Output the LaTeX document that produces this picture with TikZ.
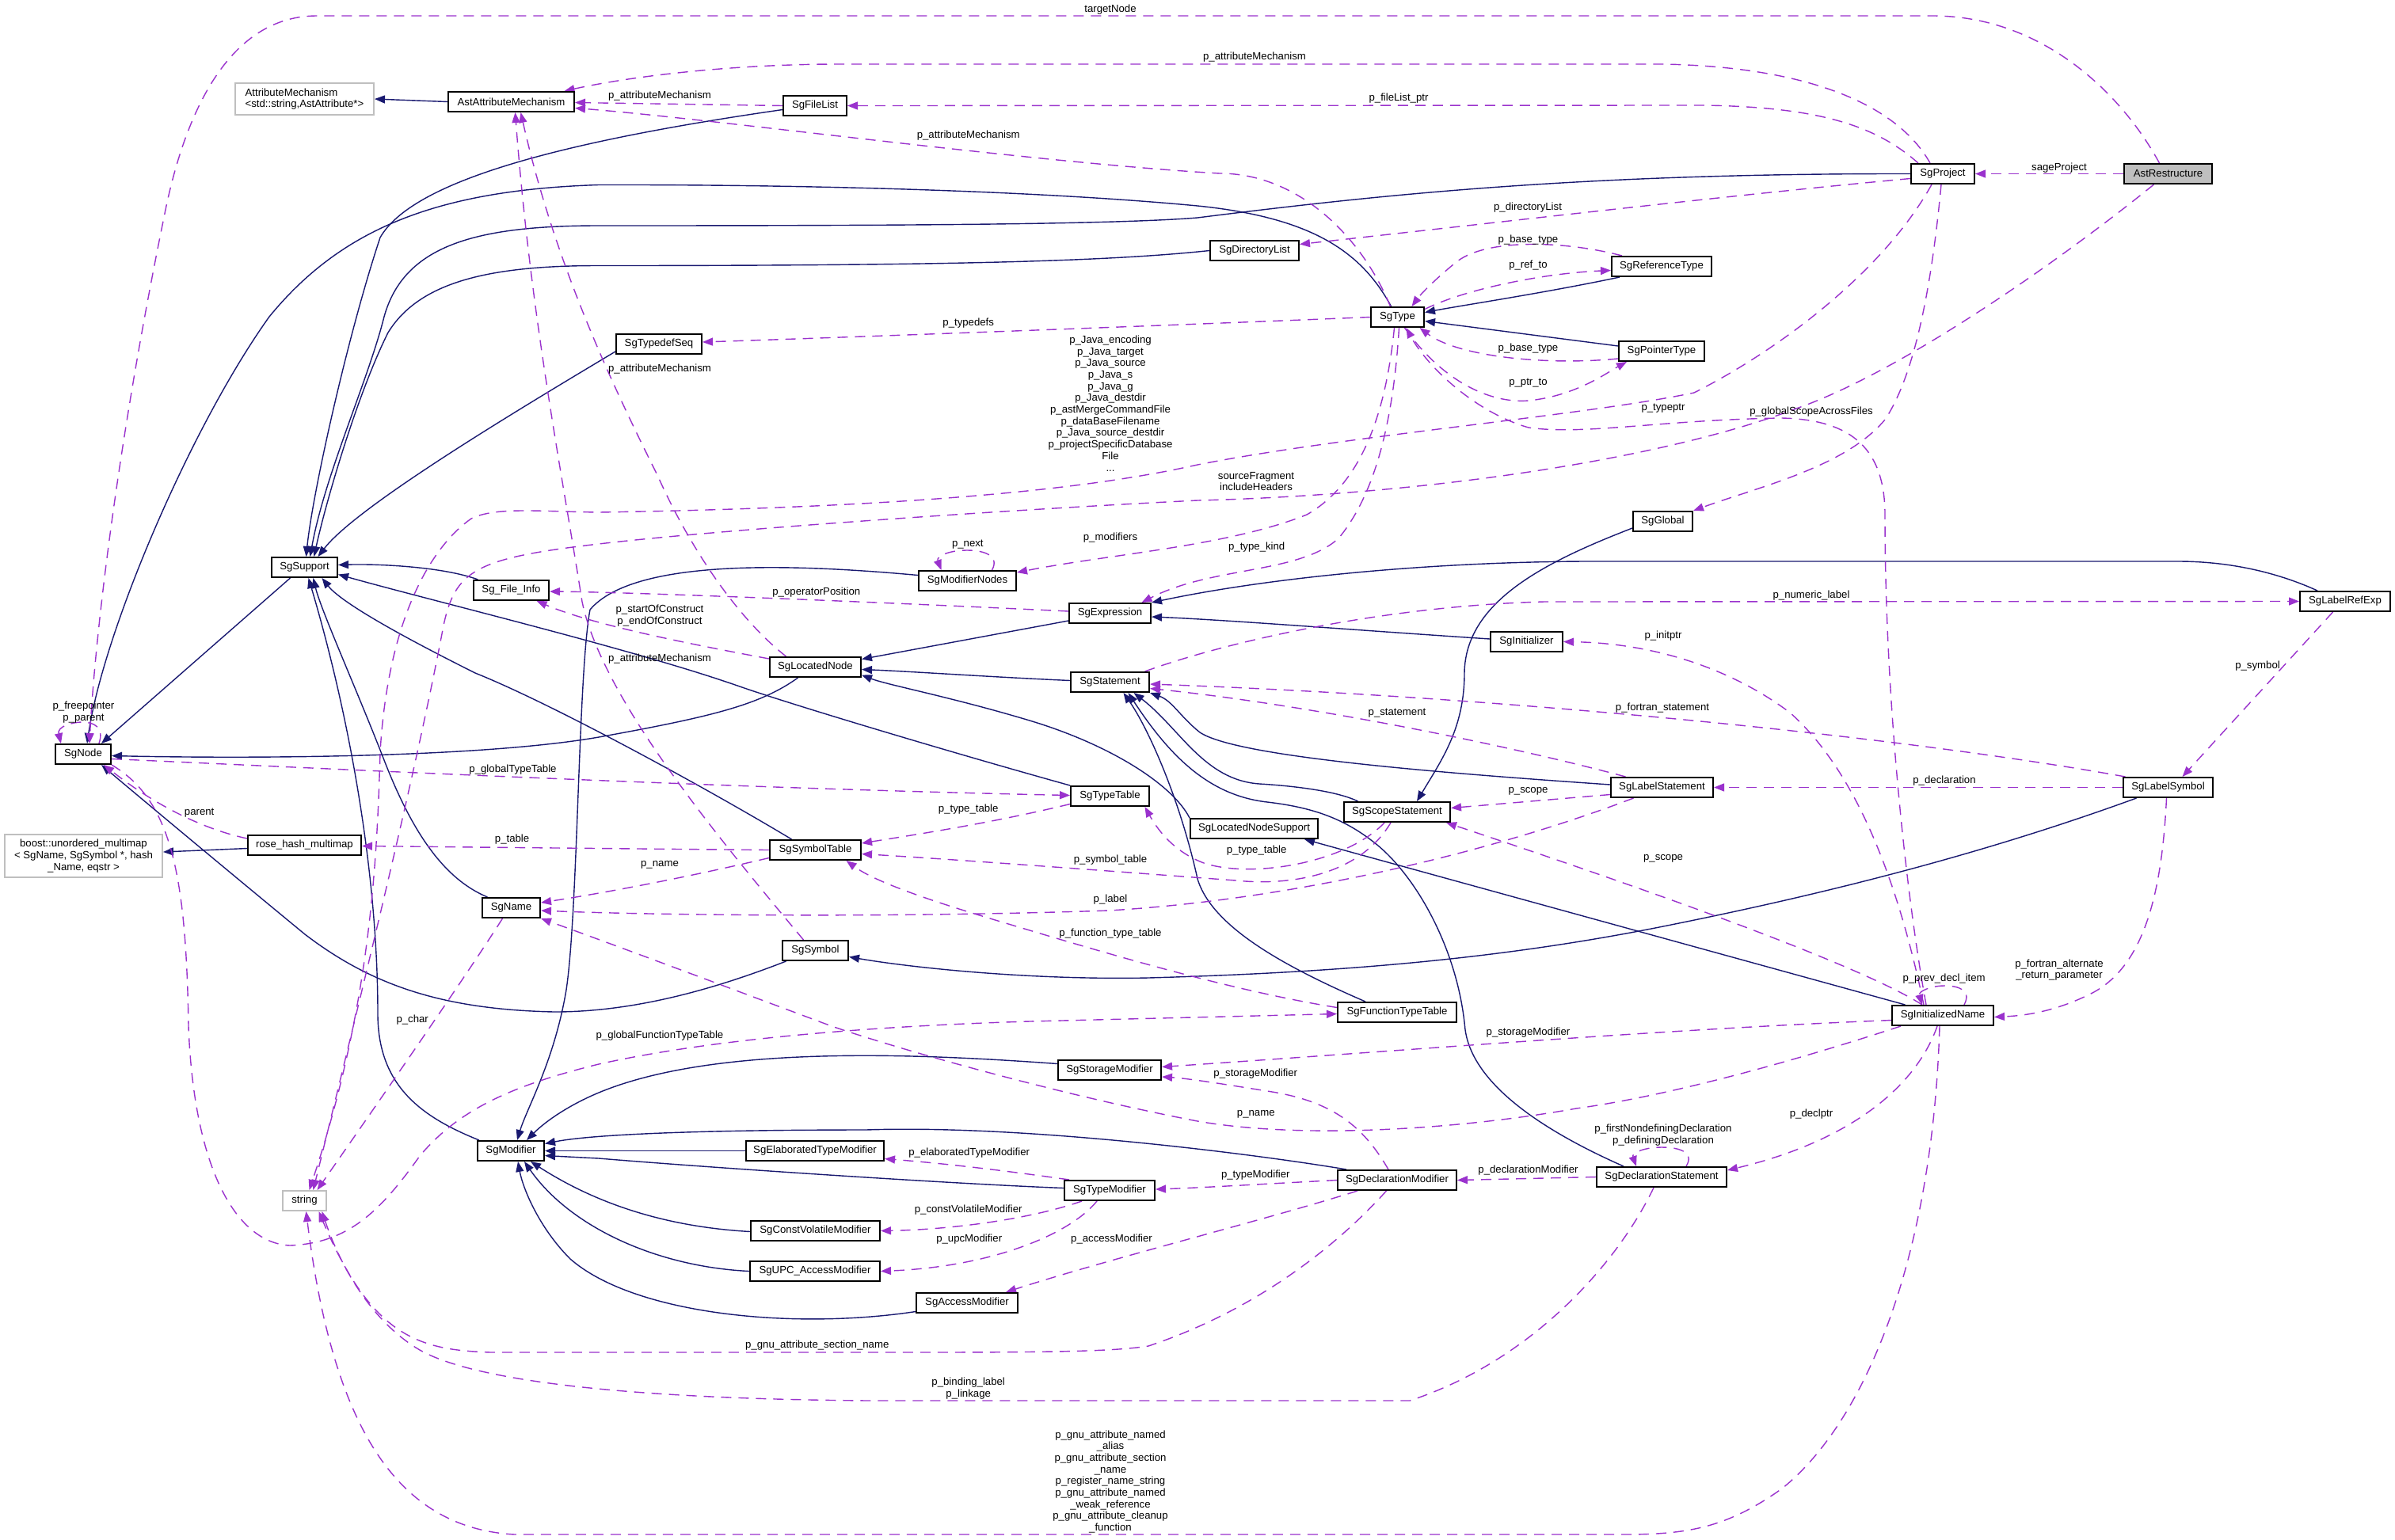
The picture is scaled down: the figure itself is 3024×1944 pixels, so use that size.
\documentclass[tikz,border=0pt]{standalone}
\usepackage{fontspec}
\setmainfont{Liberation Sans}
\usetikzlibrary{arrows.meta}
\definecolor{navyc}{HTML}{191970}
\definecolor{purp}{HTML}{9A32CD}
\definecolor{grayb}{HTML}{BFBFBF}
\newcommand\lblfont{\fontsize{13.2}{14.7}\selectfont}
\pgfdeclarelayer{bgl}
\pgfdeclarelayer{edges}
\pgfsetlayers{bgl,edges,main}
\begin{document}
\begin{tikzpicture}[x=1pt,y=-1pt,
 box/.style={draw=black, line width=2pt, fill=white, minimum height=25pt, inner xsep=2pt, inner ysep=2pt, font=\lblfont},
 gbox/.style={box, draw=grayb},
 inh/.style={draw=navyc, line width=1.4pt, -{Triangle[length=13pt,width=10pt]}},
 use/.style={draw=purp, line width=1.4pt, dash pattern=on 13pt off 9pt, -{Triangle[length=13pt,width=10pt]}},
 lbl/.style={inner sep=0pt, align=center, font=\lblfont}]
\begin{pgfonlayer}{bgl}
\fill[white] (0,0) rectangle (3024,1944);
\end{pgfonlayer}
\useasboundingbox (0,0) rectangle (3024,1944);

% ---------- nodes ----------
\node[gbox, minimum width=175pt, minimum height=40pt, align=left] (am) at (384.5,125) {AttributeMechanism\\<std::string,AstAttribute*>};
\node[box, minimum width=159pt] (aam) at (645.5,128.5) {AstAttributeMechanism};
\node[box, minimum width=80pt] (fl) at (1029,133.5) {SgFileList};
\node[box, minimum width=80pt] (proj) at (2453,219.5) {SgProject};
\node[box, minimum width=111pt, fill=grayb] (ar) at (2737.5,219.5) {AstRestructure};
\node[box, minimum width=112pt] (dl) at (1584,316.5) {SgDirectoryList};
\node[box, minimum width=67pt] (ty) at (1764.5,400.5) {SgType};
\node[box, minimum width=126pt] (rt) at (2098,336.5) {SgReferenceType};
\node[box, minimum width=108pt] (ptrt) at (2098,443.5) {SgPointerType};
\node[box, minimum width=108pt] (tds) at (832,434.5) {SgTypedefSeq};
\node[box, minimum width=75pt] (glob) at (2099.5,658.5) {SgGlobal};
\node[box, minimum width=83pt] (sup) at (384.5,716.5) {SgSupport};
\node[box, minimum width=95pt] (fi) at (645.5,745.5) {Sg\_File\_Info};
\node[box, minimum width=70pt] (sn) at (105,952.5) {SgNode};
\node[box, minimum width=123pt] (mn) at (1221.5,733.5) {SgModifierNodes};
\node[box, minimum width=103pt] (ex) at (1401.5,774.5) {SgExpression};
\node[box, minimum width=114pt] (lre) at (2961,759.5) {SgLabelRefExp};
\node[box, minimum width=115pt] (ln) at (1029.5,842.5) {SgLocatedNode};
\node[box, minimum width=99pt] (st) at (1401.5,861.5) {SgStatement};
\node[box, minimum width=91pt] (ini) at (1927.5,810.5) {SgInitializer};
\node[box, minimum width=129pt] (ls) at (2098.5,994.5) {SgLabelStatement};
\node[box, minimum width=113pt] (lsym) at (2737.5,994.5) {SgLabelSymbol};
\node[box, minimum width=134pt] (ss) at (1764,1025.5) {SgScopeStatement};
\node[box, minimum width=161pt] (lns) at (1583.5,1046.5) {SgLocatedNodeSupport};
\node[box, minimum width=99pt] (tt) at (1401.5,1005.5) {SgTypeTable};
\node[box, minimum width=115pt] (symt) at (1029.5,1073.5) {SgSymbolTable};
\node[box, minimum width=143pt] (rhm) at (384.5,1067.5) {rose\_hash\_multimap};
\node[gbox, minimum width=199pt, minimum height=54pt, align=center] (bum) at (105.5,1081) {boost::unordered\_multimap\\< SgName, SgSymbol *, hash\\\_Name, eqstr >};
\node[box, minimum width=73pt] (nm) at (645.5,1146.5) {SgName};
\node[box, minimum width=83pt] (sym) at (1029.5,1200.5) {SgSymbol};
\node[box, minimum width=150pt] (ftt) at (1764,1278.5) {SgFunctionTypeTable};
\node[box, minimum width=128pt] (inm) at (2453,1282.5) {SgInitializedName};
\node[box, minimum width=130pt] (stm) at (1401,1351.5) {SgStorageModifier};
\node[box, minimum width=84pt] (mod) at (645,1453.5) {SgModifier};
\node[gbox, minimum width=55pt] (str) at (384.5,1516.5) {string};
\node[box, minimum width=174pt] (etm) at (1029,1453.5) {SgElaboratedTypeModifier};
\node[box, minimum width=114pt] (tm) at (1401,1503.5) {SgTypeModifier};
\node[box, minimum width=163pt] (cvm) at (1029.5,1554.5) {SgConstVolatileModifier};
\node[box, minimum width=164pt] (upc) at (1029,1605.5) {SgUPC\_AccessModifier};
\node[box, minimum width=128pt] (acc) at (1221,1645.5) {SgAccessModifier};
\node[box, minimum width=150pt] (dm) at (1764,1490.5) {SgDeclarationModifier};
\node[box, minimum width=164pt] (ds) at (2098,1486.5) {SgDeclarationStatement};

% ---------- labels ----------
\node[lbl] (l1) at (1402,11.6) {targetNode};
\node[lbl] (l2) at (1584,72) {p\_attributeMechanism};
\node[lbl] (l3) at (833,120.7) {p\_attributeMechanism};
\node[lbl] (l4) at (1766,124) {p\_fileList\_ptr};
\node[lbl] (l5) at (1222.7,171.5) {p\_attributeMechanism};
\node[lbl] (l6) at (2600,211.6) {sageProject};
\node[lbl] (l7) at (1929,262) {p\_directoryList};
\node[lbl] (l8) at (1929.5,303) {p\_base\_type};
\node[lbl] (l9) at (1929.5,335.5) {p\_ref\_to};
\node[lbl] (l10) at (1222.7,408) {p\_typedefs};
\node[lbl] (l11) at (1929.5,440.5) {p\_base\_type};
\node[lbl] (l12) at (1402,509.4) {p\_Java\_encoding\\p\_Java\_target\\p\_Java\_source\\p\_Java\_s\\p\_Java\_g\\p\_Java\_destdir\\p\_astMergeCommandFile\\p\_dataBaseFilename\\p\_Java\_source\_destdir\\p\_projectSpecificDatabase\\File\\...};
\node[lbl] (l13) at (833,466.5) {p\_attributeMechanism};
\node[lbl] (l14) at (1929.5,483.5) {p\_ptr\_to};
\node[lbl] (l15) at (2100,515.7) {p\_typeptr};
\node[lbl] (l16) at (2287,520) {p\_globalScopeAcrossFiles};
\node[lbl] (l17) at (1586,608) {sourceFragment\\includeHeaders};
\node[lbl] (l18) at (1402,679.4) {p\_modifiers};
\node[lbl] (l19) at (1221.8,687.7) {p\_next};
\node[lbl] (l20) at (1586.7,690.6) {p\_type\_kind};
\node[lbl] (l21) at (1030.8,747.6) {p\_operatorPosition};
\node[lbl] (l22) at (2287,751.7) {p\_numeric\_label};
\node[lbl] (l23) at (833,777.4) {p\_startOfConstruct\\p\_endOfConstruct};
\node[lbl] (l24) at (2100,803.4) {p\_initptr};
\node[lbl] (l25) at (833,832.3) {p\_attributeMechanism};
\node[lbl] (l26) at (2850.5,840.6) {p\_symbol};
\node[lbl] (l27) at (2099,894.3) {p\_fortran\_statement};
\node[lbl] (l28) at (1764,900.5) {p\_statement};
\node[lbl] (l29) at (105.5,899.3) {p\_freepointer\\p\_parent};
\node[lbl] (l30) at (647.5,972.4) {p\_globalTypeTable};
\node[lbl] (l31) at (2455,986.4) {p\_declaration};
\node[lbl] (l32) at (1929.5,999.7) {p\_scope};
\node[lbl] (l33) at (1222.7,1022.4) {p\_type\_table};
\node[lbl] (l34) at (251.7,1027) {parent};
\node[lbl] (l35) at (646.6,1060.4) {p\_table};
\node[lbl] (l36) at (1586.7,1074.5) {p\_type\_table};
\node[lbl] (l37) at (2100,1084.8) {p\_scope};
\node[lbl] (l38) at (1402,1086) {p\_symbol\_table};
\node[lbl] (l39) at (833,1092.6) {p\_name};
\node[lbl] (l40) at (1402,1135.6) {p\_label};
\node[lbl] (l41) at (1402,1179.4) {p\_function\_type\_table};
\node[lbl] (l42) at (2600,1225.2) {p\_fortran\_alternate\\\_return\_parameter};
\node[lbl] (l43) at (2454.6,1236.4) {p\_prev\_decl\_item};
\node[lbl] (l44) at (520.7,1288.5) {p\_char};
\node[lbl] (l45) at (1929.5,1304.3) {p\_storageModifier};
\node[lbl] (l46) at (833,1308.4) {p\_globalFunctionTypeTable};
\node[lbl] (l47) at (1585.3,1356.3) {p\_storageModifier};
\node[lbl] (l48) at (2287,1406.7) {p\_declptr};
\node[lbl] (l49) at (1585.8,1407.6) {p\_name};
\node[lbl] (l50) at (2100,1433.6) {p\_firstNondefiningDeclaration\\p\_definingDeclaration};
\node[lbl] (l51) at (1223.7,1456.3) {p\_elaboratedTypeModifier};
\node[lbl] (l52) at (1929.5,1478.2) {p\_declarationModifier};
\node[lbl] (l53) at (1585.3,1484.4) {p\_typeModifier};
\node[lbl] (l54) at (1222.7,1528.2) {p\_constVolatileModifier};
\node[lbl] (l55) at (1223.7,1564.6) {p\_upcModifier};
\node[lbl] (l56) at (1403.5,1564.6) {p\_accessModifier};
\node[lbl] (l57) at (1031.8,1699.3) {p\_gnu\_attribute\_section\_name};
\node[lbl] (l58) at (1222.7,1753.5) {p\_binding\_label\\p\_linkage};
\node[lbl] (l59) at (1402,1871.4) {p\_gnu\_attribute\_named\\\_alias\\p\_gnu\_attribute\_section\\\_name\\p\_register\_name\_string\\p\_gnu\_attribute\_named\\\_weak\_reference\\p\_gnu\_attribute\_cleanup\\\_function};

\begin{pgfonlayer}{edges}
% ---------- inheritance ----------
\draw[inh] (aam.west) -- (am.east);
\draw[inh] ([yshift=-5pt]fl.west) .. controls (700,180) and (520,230) .. (480,300) .. controls (440,420) and (395,620) .. ([xshift=2pt]sup.north);
\draw[inh] (proj.west) .. controls (2000,219) and (1750,245) .. (1512,275) .. controls (1400,284) and (1100,285) .. (756,285) .. controls (600,285) and (510,310) .. (485,400) .. controls (465,480) and (410,600) .. ([xshift=7pt]sup.north);
\draw[inh] (dl.west) .. controls (1400,330) and (1200,335.5) .. (756,335.5) .. controls (620,335.5) and (530,355) .. (490,420) .. controls (450,500) and (410,640) .. ([xshift=12pt]sup.north);
\draw[inh] ([yshift=-9.5pt]tds.west) .. controls (650,520) and (450,640) .. ([xshift=17pt]sup.north);
\draw[inh] ([xshift=-42pt]fi.north) .. controls (560,716) and (480,712) .. ([yshift=3pt]sup.east);
\draw[inh] (tt.north west) .. controls (1200,950) and (1000,890) .. (934,867) .. controls (800,820) and (550,760) .. ([yshift=-9pt]sup.east);
\draw[inh] ([xshift=-30pt]symt.north) .. controls (900,1000) and (700,890) .. (600,850) .. controls (500,800) and (430,760) .. ([xshift=22pt]sup.south);
\draw[inh] ([xshift=-30pt]nm.north) .. controls (560,1110) and (520,1050) .. (485,960) .. controls (450,870) and (405,770) .. ([xshift=11pt]sup.south);
\draw[inh] ([xshift=-40pt]mod.north) .. controls (530,1410) and (477,1370) .. (477,1280) .. controls (477,1100) and (440,900) .. ([xshift=5pt]sup.south);
\draw[inh] ([xshift=-18pt]sup.south) -- ([xshift=23pt]sn.north);
\draw[inh] ([xshift=-8pt]ty.north) .. controls (1720,320) and (1660,275) .. (1512,260) .. controls (1300,240) and (1000,233) .. (756,233.5) .. controls (550,240) and (430,290) .. (340,400) .. controls (240,540) and (130,800) .. ([xshift=5pt]sn.north);
\draw[inh] ([xshift=-22pt]ln.south) .. controls (960,890) and (900,905) .. (756,931) .. controls (600,958) and (300,958) .. ([yshift=-2pt]sn.east);
\draw[inh] ([xshift=-37pt]sym.south) .. controls (900,1250) and (800,1278) .. (700,1278) .. controls (560,1275) and (470,1245) .. (385,1180) .. controls (300,1110) and (180,1010) .. ([xshift=23pt]sn.south);
\draw[inh] ([xshift=-53pt]rt.south) .. controls (1950,370) and (1850,385) .. ([yshift=6pt]ty.east);
\draw[inh] ([yshift=6.5pt]ptrt.west) -- ([yshift=-5pt]ty.east);
\draw[inh] ([yshift=-9.5pt]ex.west) -- ([yshift=10pt]ln.east);
\draw[inh] ([yshift=2pt]st.west) .. controls (1250,855) and (1150,848) .. ([yshift=-3pt]ln.east);
\draw[inh] (lns.north west) .. controls (1480,990) and (1400,940) .. (1300,910) .. controls (1200,880) and (1120,865) .. ([yshift=-10pt]ln.east);
\draw[inh] ([xshift=-35pt]lre.north) .. controls (2880,725) and (2820,709) .. (2750,709) -- (2000,709) .. controls (1800,710) and (1600,730) .. (ex.north east);
\draw[inh] ([yshift=3.5pt]ini.west) .. controls (1700,795) and (1550,783) .. ([yshift=-4.5pt]ex.east);
\draw[inh] ([yshift=3.5pt]ls.west) .. controls (1800,975) and (1560,955) .. (1515,925) .. controls (1490,905) and (1480,885) .. (st.south east);
\draw[inh] ([xshift=-49.5pt]ss.north) .. controls (1690,1000) and (1640,993) .. (1590,990) .. controls (1520,985) and (1490,920) .. ([xshift=30pt]st.south);
\draw[inh] ([xshift=-48pt]ds.north) .. controls (1930,1420) and (1855,1360) .. (1849.5,1296) .. controls (1840,1200) and (1790,1110) .. (1740,1068) .. controls (1700,1035) and (1660,1020) .. (1600,1013) .. controls (1530,1005) and (1480,960) .. ([xshift=23pt]st.south);
\draw[inh] ([xshift=-40pt]ftt.north) .. controls (1620,1220) and (1530,1170) .. (1512,1110) .. controls (1490,1010) and (1450,920) .. ([xshift=17pt]st.south);
\draw[inh] ([yshift=-8.5pt]glob.west) .. controls (1950,710) and (1850,760) .. (1849,850) .. controls (1849,920) and (1820,960) .. ([xshift=25pt]ss.north);
\draw[inh] ([xshift=-40pt]lsym.south) .. controls (2500,1080) and (2300,1130) .. (2100,1170) .. controls (1900,1210) and (1700,1228) .. (1450,1235) .. controls (1300,1238) and (1150,1222) .. ([yshift=-8pt]sym.east);
\draw[inh] ([xshift=-47.5pt]inm.north) -- ([xshift=63.5pt]lns.south);
\draw[inh] ([yshift=-4pt]rhm.west) -- ([yshift=5pt]bum.east);
\draw[inh] ([yshift=7pt]mn.west) .. controls (1000,712) and (800,705) .. (745,770) .. controls (730,850) and (730,1150) .. (715,1250) .. controls (700,1340) and (665,1400) .. ([xshift=8pt]mod.north);
\draw[inh] ([yshift=8pt]stm.west) .. controls (1150,1330) and (900,1320) .. (756,1380) .. controls (720,1395) and (690,1415) .. ([xshift=20pt]mod.north);
\draw[inh] ([xshift=-64pt]dm.north) .. controls (1600,1460) and (1300,1420) .. (1093,1427) .. controls (900,1427) and (750,1432) .. ([yshift=9pt]mod.east);
\draw[inh] (etm.west) -- (mod.east);
\draw[inh] ([yshift=3pt]tm.west) .. controls (1200,1495) and (900,1475) .. (756,1463) -- ([yshift=-6pt]mod.east);
\draw[inh] ([yshift=-1pt]cvm.west) .. controls (850,1550) and (760,1525) .. ([xshift=25pt]mod.south);
\draw[inh] (upc.west) .. controls (830,1600) and (720,1550) .. ([xshift=17pt]mod.south);
\draw[inh] ([yshift=-11pt]acc.west) .. controls (1000,1680) and (800,1660) .. (720,1590) .. controls (680,1550) and (660,1500) .. ([xshift=9pt]mod.south);

% ---------- usage ----------
\draw[use] ([xshift=-11pt]ar.north) .. controls (2680,120) and (2580,20) .. (2440,20) -- (400,20) .. controls (300,20) and (240,120) .. (210,260) .. controls (150,550) and (120,800) .. ([xshift=8pt]sn.north);
\draw[use] (ar.west) -- (proj.east);
\draw[use] ([xshift=-2pt]proj.south) .. controls (2440,350) and (2420,470) .. (2380,530) .. controls (2330,590) and (2220,615) .. (glob.north east);
\draw[use] ([xshift=-16pt]proj.north) .. controls (2400,140) and (2300,85) .. (2100,81) -- (1050,81) .. controls (900,82) and (780,100) .. ([xshift=67pt]aam.north);
\draw[use] ([xshift=-31pt]proj.north) .. controls (2370,160) and (2300,135) .. (2150,133) -- (fl.east);
\draw[use] ([yshift=-6pt]proj.west) .. controls (2200,245) and (1900,280) .. ([yshift=8pt]dl.east);
\draw[use] ([xshift=-9pt]ty.north) .. controls (1720,300) and (1640,219) .. (1540,219) .. controls (1300,205) and (900,150) .. ([yshift=-8pt]aam.east);
\draw[use] (fl.west) -- ([yshift=-1pt]aam.east);
\draw[use] ([xshift=-37pt]ln.north) .. controls (930,780) and (870,690) .. (830,600) .. controls (770,480) and (700,330) .. ([xshift=12pt]aam.south);
\draw[use] ([xshift=-15pt]sym.north) .. controls (900,1050) and (760,880) .. (735,760) .. controls (710,600) and (670,400) .. ([xshift=5pt]aam.south);
\draw[use] (ty.west) .. controls (1500,410) and (1100,425) .. ([yshift=2.5pt]tds.east);
\draw[use] ([xshift=-50pt]rt.north) .. controls (1980,305) and (1880,300) .. (1840,330) .. controls (1815,350) and (1795,370) .. ([xshift=18pt]ty.north);
\draw[use] ([yshift=10pt]ty.east) .. controls (1850,365) and (1950,345) .. ([yshift=-5pt]rt.west);
\draw[use] ([yshift=-9.5pt]ptrt.west) .. controls (1950,462) and (1840,450) .. ([xshift=28pt]ty.south);
\draw[use] ([xshift=9pt]ty.south) .. controls (1820,480) and (1880,510) .. (1930,506) .. controls (1990,500) and (2030,470) .. ([xshift=-44pt]ptrt.south);
\draw[use] ([xshift=-21pt]inm.north) .. controls (2410,1150) and (2380,900) .. (2380,650) .. controls (2380,560) and (2330,530) .. (2250,528) .. controls (2100,530) and (2000,550) .. (1930,540) .. controls (1860,520) and (1800,460) .. ([xshift=11pt]ty.south);
\draw[use] ([xshift=-4pt]ty.south) .. controls (1750,520) and (1720,610) .. (1650,650) .. controls (1550,690) and (1400,700) .. ([yshift=10.5pt]mn.east);
\draw[use] ([xshift=2pt]ty.south) .. controls (1760,520) and (1740,620) .. (1690,680) .. controls (1640,725) and (1530,715) .. ([xshift=40pt]ex.north);
\draw[use] ([xshift=31pt]mn.north) .. controls (1262,703) and (1245,695) .. (1221,695) .. controls (1197,695) and (1182,703) .. ([xshift=-33pt]mn.north);
\draw[use] ([yshift=2.5pt]ex.west) .. controls (1100,760) and (800,748) .. ([yshift=-1.5pt]fi.east);
\draw[use] ([yshift=10.5pt]ln.west) .. controls (880,815) and (750,790) .. ([xshift=32pt]fi.south);
\draw[use] ([yshift=-6pt]sn.east) .. controls (400,970) and (900,995) .. ([yshift=1pt]tt.west);
\draw[use] ([yshift=8.5pt]rhm.west) .. controls (260,1048) and (200,1020) .. ([xshift=26pt]sn.south);
\draw[use] (symt.west) .. controls (800,1072) and (600,1070) .. ([yshift=-1pt]rhm.east);
\draw[use] ([yshift=-10pt]tt.west) .. controls (1250,1040) and (1150,1055) .. ([yshift=8.5pt]symt.east);
\draw[use] ([xshift=-16pt]ss.south) .. controls (1700,1090) and (1580,1110) .. (1520,1090) .. controls (1480,1075) and (1460,1045) .. ([xshift=44pt]tt.south);
\draw[use] ([xshift=-8pt]ss.south) .. controls (1720,1100) and (1640,1120) .. (1560,1112) .. controls (1400,1100) and (1200,1085) .. ([yshift=-5pt]symt.east);
\draw[use] ([yshift=-10pt]symt.west) .. controls (880,1105) and (780,1125) .. ([yshift=6.5pt]nm.east);
\draw[use] ([xshift=-36pt]ls.south) .. controls (1900,1070) and (1650,1135) .. (1400,1150) .. controls (1100,1160) and (800,1155) .. ([yshift=-3.5pt]nm.east);
\draw[use] ([xshift=-53pt]inm.south) .. controls (2250,1345) and (2100,1385) .. (1990,1400) .. controls (1850,1425) and (1650,1440) .. (1512,1416) .. controls (1350,1385) and (1150,1330) .. (1050,1296) .. controls (900,1240) and (780,1195) .. (nm.south east);
\draw[use] ([yshift=6pt]ftt.west) .. controls (1550,1250) and (1400,1205) .. (1250,1160) .. controls (1150,1130) and (1100,1110) .. ([xshift=39pt]symt.south);
\draw[use] (sn.south east) .. controls (215,1010) and (235,1100) .. (238,1296) .. controls (245,1480) and (300,1570) .. (366,1573) .. controls (440,1570) and (480,1530) .. (530,1460) .. controls (580,1400) and (650,1370) .. (756,1344) .. controls (900,1312) and (1100,1296) .. (1300,1290) -- ([yshift=-2pt]ftt.west);
\draw[use] ([xshift=-11pt]nm.south) .. controls (590,1230) and (500,1360) .. ([xshift=16pt]str.north);
\draw[use] ([xshift=-14pt]proj.south) .. controls (2380,340) and (2250,440) .. (2139,496) .. controls (2000,525) and (1700,550) .. (1512,587) .. controls (1400,612) and (1200,640) .. (756,647) .. controls (680,646) and (625,640) .. (595,655) .. controls (545,690) and (490,780) .. (480,950) .. controls (476,1100) and (465,1280) .. ([xshift=6pt]str.north);
\draw[use] ([xshift=-18pt]ar.south) .. controls (2600,330) and (2400,470) .. (2268,516) .. controls (2100,580) and (1800,625) .. (1512,632) .. controls (1250,645) and (900,670) .. (756,687) .. controls (600,705) and (575,720) .. (560,790) .. controls (530,950) and (470,1200) .. ([xshift=11pt]str.north);
\draw[use] ([xshift=-13.5pt]dm.south) .. controls (1700,1560) and (1600,1650) .. (1450,1700) .. controls (1400,1708) and (1300,1708) .. (1100,1708) -- (620,1708) .. controls (530,1705) and (470,1690) .. ([xshift=18pt]str.south);
\draw[use] ([xshift=-10pt]ds.south) .. controls (2040,1600) and (1930,1720) .. (1780,1769) -- (1100,1769) .. controls (800,1767) and (600,1745) .. (530,1705) .. controls (470,1670) and (430,1600) .. ([xshift=22pt]str.south);
\draw[use] ([xshift=-4pt]inm.south) .. controls (2440,1600) and (2350,1800) .. (2250,1880) .. controls (2180,1930) and (2130,1938) .. (2050,1938) -- (650,1938) .. controls (500,1930) and (420,1800) .. ([xshift=2pt]str.south);
\draw[use] ([xshift=-54pt]lsym.north) .. controls (2400,930) and (1900,880) .. ([yshift=-2.5pt]st.east);
\draw[use] ([xshift=-46pt]ls.north) .. controls (1900,940) and (1650,890) .. ([yshift=-8pt]st.east);
\draw[use] ([xshift=44pt]st.north) .. controls (1550,810) and (1750,765) .. (1950,760) -- (lre.west);
\draw[use] ([xshift=-15.5pt]lre.south) -- ([xshift=18pt]lsym.north);
\draw[use] (lsym.west) -- (ls.east);
\draw[use] ([xshift=-24pt]inm.north) .. controls (2400,1130) and (2350,980) .. (2260,900) .. controls (2180,840) and (2080,812) .. (ini.east);
\draw[use] ([yshift=-9pt]ls.west) -- ([yshift=5pt]ss.east);
\draw[use] ([xshift=-26pt]inm.north) .. controls (2350,1220) and (2100,1130) .. ([xshift=62pt]ss.south);
\draw[use] ([xshift=27pt]inm.north) .. controls (2490,1250) and (2472,1245) .. (2455,1245) .. controls (2438,1245) and (2422,1252) .. ([xshift=-26pt]inm.north);
\draw[use] ([xshift=-2pt]lsym.south) .. controls (2730,1120) and (2710,1220) .. (2640,1255) .. controls (2590,1280) and (2550,1283) .. ([yshift=-2pt]inm.east);
\draw[use] ([yshift=-6pt]inm.west) .. controls (2100,1300) and (1800,1325) .. ([yshift=4pt]stm.east);
\draw[use] ([xshift=-11pt]dm.north) .. controls (1720,1420) and (1680,1390) .. (1600,1378) .. controls (1550,1370) and (1500,1362) .. ([yshift=-8.5pt]stm.east);
\draw[use] (dm.west) .. controls (1600,1495) and (1520,1500) .. ([yshift=1.5pt]tm.east);
\draw[use] ([xshift=-50pt]dm.south) .. controls (1600,1540) and (1400,1590) .. ([xshift=49pt]acc.north);
\draw[use] ([xshift=-51pt]tm.north) .. controls (1280,1480) and (1200,1470) .. ([yshift=-10pt]etm.east);
\draw[use] ([xshift=-35pt]tm.south) .. controls (1300,1540) and (1200,1553) .. (cvm.east);
\draw[use] ([xshift=-16pt]tm.south) .. controls (1350,1560) and (1250,1600) .. (upc.east);
\draw[use] (ds.west) -- (dm.east);
\draw[use] ([xshift=31pt]ds.north) .. controls (2140,1455) and (2120,1449) .. (2098,1449) .. controls (2076,1449) and (2060,1456) .. ([xshift=-32pt]ds.north);
\draw[use] ([xshift=-7pt]inm.south) .. controls (2420,1370) and (2340,1440) .. ([yshift=8.5pt]ds.east);
\draw[use] ([xshift=20pt]sn.north) .. controls (132,918) and (118,912) .. (104,912) .. controls (90,912) and (72,918) .. ([xshift=-28pt]sn.north);
\end{pgfonlayer}
\end{tikzpicture}
\end{document}
